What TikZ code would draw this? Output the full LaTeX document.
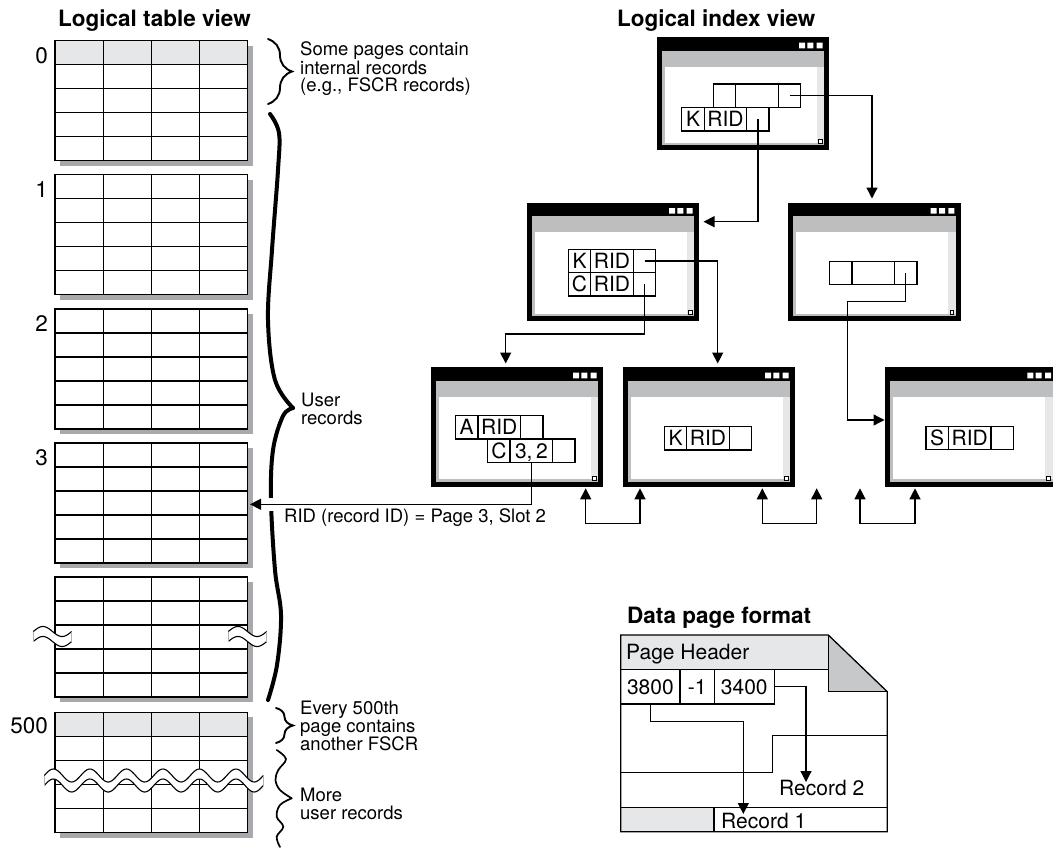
\documentclass[tikz,border=0pt]{standalone}
\usepackage{fontspec}
\setmainfont{TeX Gyre Heros}
\usetikzlibrary{arrows.meta,decorations.pathreplacing}
\definecolor{hdrgray}{HTML}{E6E7E8}
\definecolor{bargray}{HTML}{BCBEC0}
\definecolor{scrollgray}{HTML}{E6E7E8}
\definecolor{shadowgray}{HTML}{A7A9AC}
\definecolor{foldgray}{HTML}{C7C8CA}
\tikzset{
 tline/.style={line width=1.3pt, draw=black},
 conn/.style={line width=1.3pt},
 arr/.style={conn, -{Triangle[length=11pt,width=11pt]}},
 darr/.style={conn, {Triangle[length=11pt,width=11pt]}-{Triangle[length=11pt,width=11pt]}},
 cell/.style={draw, line width=1.3pt, inner sep=0pt, minimum height=23.4pt, text height=15pt, text depth=0pt, font=\fontsize{21}{21}\selectfont},
 sc/.style={cell, minimum width=22.4pt},
 wc/.style={cell, minimum width=42.6pt},
 body/.style={inner sep=0pt, align=left, font=\fontsize{18.5}{18}\selectfont},
 pagelbl/.style={inner sep=0pt, font=\fontsize{22.5}{22.5}\selectfont},
 ttl/.style={inner sep=0pt, font=\fontsize{22.5}{24}\selectfont\bfseries},
 dtxt/.style={inner sep=0pt, font=\fontsize{21}{21}\selectfont},
 dcell/.style={draw, line width=1.3pt, inner sep=0pt, minimum height=34.7pt, text height=15pt, text depth=0pt, font=\fontsize{21}{21}\selectfont},
 brkline/.style={line width=1.1pt},
 bigbrace/.style={line width=4pt, line cap=round, line join=round},
 thinbrace/.style={line width=1.9pt, line cap=round}
}
% window of the index view: name, x, y, height
\newcommand\idxwin[4]{%
 \begin{scope}[shift={(#2,#3)}]
  \fill[black] (0,0) rectangle (172.6,#4);
  \fill[bargray] (5,13.7) rectangle (167.6,29.3);
  \fill[white] (5,29.3) rectangle (167.6,{#4-5});
  \fill[bargray] (5,29.3) rectangle (8,{#4-5});
  \fill[bargray] (5,{#4-7.5}) rectangle (167.6,{#4-5});
  \fill[scrollgray] (160,29.3) rectangle (167.6,{#4-7.5});
  \fill[white] (142.3,5.3) rectangle (148.3,11) (150.7,5.3) rectangle (156.7,11) (160,5.3) rectangle (166,11);
  \draw[line width=0.7pt, fill=white] (161.7,{#4-10.3}) rectangle (165.5,{#4-6.3});
 \end{scope}
 \node[inner sep=0pt, outer sep=0pt, minimum width=172.6pt, minimum height=#4pt, anchor=north west] (#1) at (#2,#3) {};
}
% table page: name, top y, header colour
\newcommand\ltable[3]{%
 \fill[shadowgray] (60,{#2+5}) rectangle (253,{#2+125.3});
 \fill[white] (55,#2) rectangle (247.7,{#2+120});
 \fill[#3] (55,#2) rectangle (247.7,{#2+24});
 \foreach \r in {1,...,4} \draw[tline] (55,{#2+24*\r}) -- (247.7,{#2+24*\r});
 \foreach \c in {1,2,3} \draw[tline] ({55+48.175*\c},#2) -- ({55+48.175*\c},{#2+120});
 \node[draw, tline, inner sep=0pt, outer sep=0pt, minimum width=192.7pt, minimum height=120pt, anchor=north west] (#1) at (55,#2) {};
}
% break mark: x0, upper centre y, length, periods, amplitude
\newcommand\brkmark[5]{%
 \fill[white] plot[domain=0:#3, samples=150] ({#1+\x},{#2-#5*sin(\x/#3*360*#4)}) -- plot[domain=#3:0, samples=150] ({#1+\x},{#2+10-#5*sin(\x/#3*360*#4)}) -- cycle;
 \draw[brkline] plot[domain=0:#3, samples=150] ({#1+\x},{#2-#5*sin(\x/#3*360*#4)});
 \draw[brkline] plot[domain=0:#3, samples=150] ({#1+\x},{#2+10-#5*sin(\x/#3*360*#4)});
 \draw[line width=0.6pt, black!30] (#1,#2) -- (#1,{#2+10}) ({#1+#3},#2) -- ({#1+#3},{#2+10});
}
\begin{document}
\begin{tikzpicture}[x=1pt,y=-1pt]
\useasboundingbox (0,0) rectangle (1053,847);
\clip (0,0) rectangle (1053,847);
\fill[white] (0,0) rectangle (1053,847);

% ---------- logical table view ----------
\node[ttl, anchor=base west] (ttab) at (58,26.7) {Logical table view};
\ltable{tab0}{40.7}{hdrgray}
\ltable{tab1}{174.8}{white}
\ltable{tab2}{308.9}{white}
\ltable{tab3}{443}{white}
\ltable{tab4}{577.1}{white}
\ltable{tab500}{712.3}{hdrgray}
\node[pagelbl, anchor=base east] (l0) at (48,63.3) {0};
\node[pagelbl, anchor=base east] (l1) at (48,197.3) {1};
\node[pagelbl, anchor=base east] (l2) at (48,331.4) {2};
\node[pagelbl, anchor=base east] (l3) at (48,465.5) {3};
\node[pagelbl, anchor=base east] (l500) at (48,733.5) {500};

\brkmark{33.3}{631.5}{38.4}{1}{5}
\brkmark{228.3}{631.5}{38.4}{1}{5}
\brkmark{44.3}{775.5}{219}{6}{6.5}

% braces
\draw[thinbrace, decorate, decoration={brace, amplitude=24pt}] (268,39) -- (268,104);
\draw[bigbrace] plot[smooth, tension=0.6] coordinates {(270,114) (279,133) (278,170) (272,250) (268,320) (275,380) (293,408)};
\draw[bigbrace] plot[smooth, tension=0.6] coordinates {(293,408) (283,416) (273,450) (271,500) (275,570) (281,615) (277,665) (268,700)};
\draw[thinbrace, decorate, decoration={brace, amplitude=17pt}] (276,708) -- (276,743);
\draw[line width=1.7pt, line cap=round] plot[smooth, tension=0.6] coordinates {(276.7,750) (286,759) (278.3,770) (275.5,780) (280,790) (291.7,798.3)};
\draw[line width=1.7pt, line cap=round] plot[smooth, tension=0.6] coordinates {(291.7,798.3) (280,805) (276.7,816.7) (283.3,826.7) (276.7,836.7) (280,847)};

% multi-line nodes: base = baseline of the last line
\node[body, font=\fontsize{18.5}{16.7}\selectfont, anchor=base west] (b1t) at (300,91) {Some pages contain\\internal records\\(e.g., FSCR records)};
\node[body, anchor=base west] (b2t) at (301,424.3) {User\\records};
\node[body, anchor=base west] (b3t) at (300,750) {Every 500th\\page contains\\another FSCR};
\node[body, anchor=base west] (b4t) at (300,819.3) {More\\user records};

% ---------- logical index view ----------
\node[ttl, anchor=base west] (tidx) at (617,26.7) {Logical index view};
\idxwin{w1}{656.7}{37.3}{112.7}
\idxwin{w2}{526.7}{202.7}{118.3}
\idxwin{w3}{788.3}{202.7}{118.3}
\idxwin{w4}{430.7}{367.3}{119.3}
\idxwin{w5}{622.7}{367.3}{119.3}
\idxwin{w6}{885}{367.3}{119.3}

\node[sc] (w1a) at (724.5,95.8) {};
\node[wc] (w1b) at (757,95.8) {};
\node[sc] (w1c) at (789.5,95.8) {};
\node[sc] (w1d) at (693,119.2) {K};
\node[wc] (w1e) at (725.5,119.2) {RID};
\node[sc] (w1f) at (757.9,119.2) {};

\node[sc] (w2a) at (579.5,261) {K};
\node[wc] (w2b) at (612,261) {RID};
\node[sc] (w2c) at (644.5,261) {};
\node[sc] (w2d) at (579.5,284.4) {C};
\node[wc] (w2e) at (612,284.4) {RID};
\node[sc] (w2f) at (644.5,284.4) {};

\node[sc] (w3a) at (840.8,273) {};
\node[wc] (w3b) at (873.3,273) {};
\node[sc] (w3c) at (905.8,273) {};

\node[sc] (w4a) at (466.7,427.3) {A};
\node[wc] (w4b) at (499.2,427.3) {RID};
\node[sc] (w4c) at (531.7,427.3) {};
\node[sc] (w4d) at (498.9,450.7) {C};
\node[wc] (w4e) at (531.4,450.7) {3,\,2};
\node[sc] (w4f) at (563.9,450.7) {};

\node[sc] (w5a) at (675.5,438.3) {K};
\node[wc] (w5b) at (708,438.3) {RID};
\node[sc] (w5c) at (740.5,438.3) {};

\node[sc] (w6a) at (937.2,438) {S};
\node[wc] (w6b) at (969.7,438) {RID};
\node[sc] (w6c) at (1002.2,438) {};

% connectors
\coordinate (t1) at (872,198.5);
\draw[arr] (w1c.center) -| (t1);
\coordinate (t2) at (703.5,221.7);
\draw[arr] (w1f.center) |- (t2);
\coordinate (t3) at (717.7,363.5);
\draw[arr] (w2c.center) -| (t3);
\coordinate (b4) at (505.7,334);
\coordinate (t4) at (505.7,363.5);
\draw[arr] (w2f.center) |- (b4) -- (t4);
\coordinate (b5) at (847.7,301.7);
\coordinate (t5) at (884.5,420);
\draw[arr] (w3c.center) |- (b5) |- (t5);

% RID pointer to table page 3 (gap in the brace)
\fill[white] (262,498) rectangle (292,511);
\coordinate (t6) at (250,504.3);
\draw[arr] (w4e.south) |- (t6);
\node[body, anchor=base west] (ridlbl) at (284,522.5) {RID (record ID) = Page 3, Slot 2};

% leaf chaining
\coordinate (c1a) at (585.7,488.3); \coordinate (c1b) at (640,488.3);
\coordinate (c2a) at (762.3,488.3); \coordinate (c2b) at (816.7,488.3);
\coordinate (c3a) at (860,488.3);   \coordinate (c3b) at (915,488.3);
\draw[darr] (c1a) -- ++(0,35) -| (c1b);
\draw[darr] (c2a) -- ++(0,35) -| (c2b);
\draw[darr] (c3a) -- ++(0,35) -| (c3b);

% ---------- data page format ----------
\node[ttl, anchor=base west] (tdat) at (627,623.3) {Data page format};
\fill[hdrgray] (620.7,635) rectangle (828.3,669.3);
\fill[hdrgray] (620.7,807.3) rectangle (714,831.7);
\fill[foldgray] (828.3,635) -- (828.3,691.7) -- (887.3,691.7) -- cycle;
\draw[tline] (620.7,635) -- (828.3,635) -- (887.3,691.7) -- (887.3,831.7) -- (620.7,831.7) -- cycle;
\draw[tline] (828.3,635) -- (828.3,691.7) -- (887.3,691.7);
\draw[tline] (620.7,669.3) -- (828.3,669.3);
\draw[tline] (887.3,735.7) -- (772.3,735.7) -- (772.3,772.3) -- (620.7,772.3);
\draw[tline] (620.7,807.3) -- (887.3,807.3) (714,807.3) -- (714,831.7);
\node[dtxt, anchor=base west] (ph) at (626,659) {Page Header};
\node[dcell, minimum width=59.3pt] (d3800) at (650.35,686.65) {3800};
\node[dcell, minimum width=34.3pt] (dm1) at (697.15,686.65) {-1};
\node[dcell, minimum width=60pt] (d3400) at (744.3,686.65) {3400};
\node[dtxt, anchor=base west] (r2) at (779,795) {Record 2};
\node[dtxt, anchor=base west] (r1) at (721,828) {Record 1};
\coordinate (r1b) at (743.3,721.7);
\coordinate (r1t) at (743.3,814);
\draw[arr] (d3800.south) |- (r1b) -- (r1t);
\coordinate (r2t) at (806,782);
\draw[arr] (d3400.east) -| (r2t);
\end{tikzpicture}
\end{document}
